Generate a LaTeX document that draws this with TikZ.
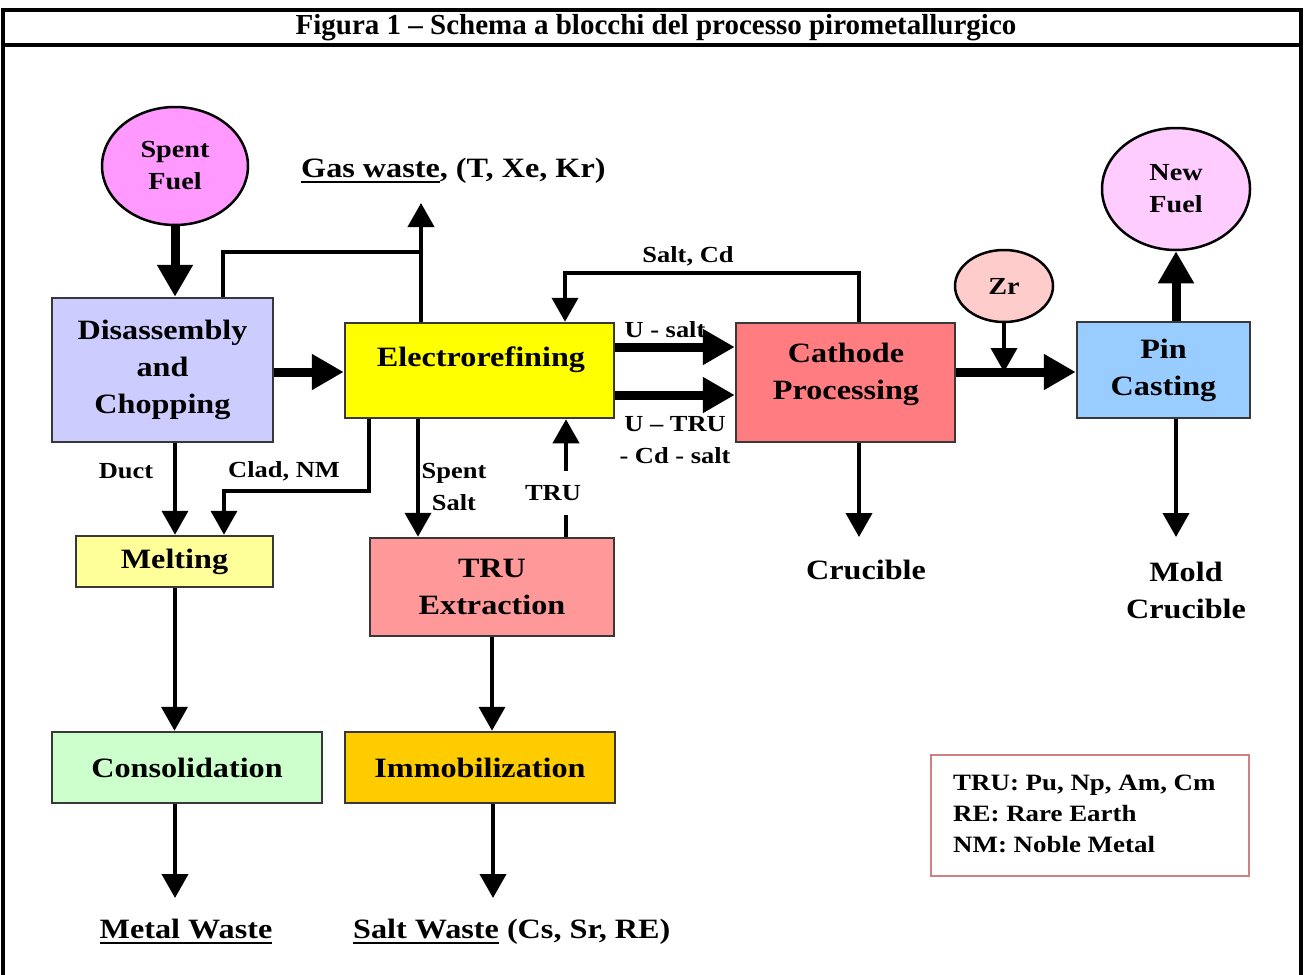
\documentclass[tikz,border=0pt]{standalone}
\usepackage{fontspec}
\setmainfont{Liberation Serif}[FakeStretch=1.15]
\newfontfamily\titlefam{Liberation Serif}
\usetikzlibrary{arrows.meta,shapes.geometric,calc}
\definecolor{cSpent}{HTML}{FF99FF}
\definecolor{cNew}{HTML}{FFCCFF}
\definecolor{cZr}{HTML}{FFCCCC}
\definecolor{cDis}{HTML}{CCCCFF}
\definecolor{cElec}{HTML}{FFFF00}
\definecolor{cCath}{HTML}{FF7C80}
\definecolor{cPin}{HTML}{99CCFF}
\definecolor{cMelt}{HTML}{FFFF99}
\definecolor{cTru}{HTML}{FF9999}
\definecolor{cCons}{HTML}{CCFFCC}
\definecolor{cImmo}{HTML}{FFCC00}
\definecolor{cLeg}{HTML}{D08080}
\definecolor{cLine}{HTML}{383838}
\newcommand\boxtxt{\fontsize{28}{37}\selectfont\bfseries}
\newcommand\circtxt{\fontsize{24.5}{32}\selectfont\bfseries}
\newcommand\labtxt{\fontsize{23}{31.5}\selectfont\bfseries}
\newcommand\legtxt{\fontsize{23.4}{31}\selectfont\bfseries}
\newcommand\myuline[1]{\setbox0\hbox{#1}\rlap{\raisebox{-6pt}{\rule{\wd0}{2.5pt}}}\box0\relax}
\tikzset{
  box/.style={draw=cLine, line width=2.5pt, rectangle, inner sep=0pt, align=center, font=\boxtxt},
  circ/.style={draw=black, line width=2.5pt, ellipse, inner sep=0pt, align=center, font=\circtxt},
  txt/.style={inner sep=0pt},
  lab/.style={inner sep=0pt, font=\labtxt, align=center},
  thinarr/.style={line width=4pt, -{Triangle[width=26pt,length=24pt]}},
  thickarr/.style={line width=9pt, -{Triangle[width=34pt,length=32pt]}},
  thinline/.style={line width=4pt}
}
\begin{document}
\begin{tikzpicture}[x=1pt,y=-1pt]
\useasboundingbox (0,0) rectangle (1305,974);
% frame
\draw[line width=4pt] (3,976) -- (3,10) -- (1301,10) -- (1301,976);
\draw[line width=4pt] (3,45) -- (1301,45);
\node[txt, font=\titlefam\bfseries\fontsize{29}{34}\selectfont, anchor=base] (title) at (656,35) {Figura 1 – Schema a blocchi del processo pirometallurgico};

% nodes
\node[circ, fill=cSpent, minimum width=146pt, minimum height=118pt] (spent) at (175,166) {Spent\\Fuel};
\node[box, fill=cDis, minimum width=221pt, minimum height=144pt] (dis) at (162.5,370) {Disassembly\\and\\Chopping};
\node[box, fill=cElec, minimum width=269pt, minimum height=95pt] (elec) at (479.5,370.5) {};
\node[txt, font=\boxtxt, anchor=base] (electxt) at (481,366) {Electrorefining};
\node[box, fill=cCath, minimum width=219pt, minimum height=119pt] (cath) at (845.5,382.5) {};
\node[txt, font=\boxtxt, align=center] (cathtxt) at (846,374) {Cathode\\Processing};
\node[circ, fill=cZr, minimum width=98pt, minimum height=72pt] (zr) at (1004,286) {Zr};
\node[box, fill=cPin, minimum width=173pt, minimum height=96pt] (pin) at (1163.5,370) {Pin\\Casting};
\node[circ, fill=cNew, minimum width=148pt, minimum height=122pt] (newf) at (1176,189) {New\\Fuel};
\node[box, fill=cMelt, minimum width=197pt, minimum height=51pt] (melt) at (174.5,561.5) {Melting};
\node[box, fill=cTru, minimum width=244pt, minimum height=98pt] (tru) at (492,587) {TRU\\Extraction};
\node[box, fill=cCons, minimum width=270pt, minimum height=71pt] (cons) at (187,767.5) {Consolidation};
\node[box, fill=cImmo, minimum width=270pt, minimum height=71pt] (immo) at (480,767.5) {Immobilization};
\node[draw=cLeg, line width=2pt, minimum width=318pt, minimum height=121pt, inner sep=0pt] (legend) at (1090,815.5) {};
\node[txt, font=\legtxt, align=left, anchor=west] (legtxt) at (953,814) {TRU: Pu, Np, Am, Cm\\RE: Rare Earth\\NM: Noble Metal};

% outputs
\node[txt, font=\boxtxt, anchor=base west] (gas) at (301,177) {\myuline{Gas waste}, (T, Xe, Kr)};
\node[txt, font=\boxtxt, anchor=base] (crucible) at (866,579) {Crucible};
\node[txt, font=\boxtxt, align=center] (mold) at (1186,590) {Mold\\Crucible};
\node[txt, font=\boxtxt, anchor=base] (metal) at (186,938) {\myuline{Metal Waste}};
\node[txt, font=\boxtxt, anchor=base west] (saltw) at (353,938) {\myuline{Salt Waste} (Cs, Sr, RE)};

% coordinates
\coordinate (gastip) at (421,203);
\coordinate (gasjoin) at (421,252);
\coordinate (saltcd) at (565,273);
\coordinate (zrjoin) at (1004,372);
\coordinate (cladc) at (224,491);
\coordinate (crutip) at (859,537);
\coordinate (moldtip) at (1176,537);
\coordinate (metaltip) at (175,898);
\coordinate (salttip) at (493,898);

% connectors
\draw[thickarr] (spent.south) -- (spent.south |- dis.north);
\draw[thinline] ([xshift=60.5pt]dis.north) |- (gasjoin);
\draw[thinarr] (gasjoin |- elec.north) -- (gastip);
\draw[thickarr] (dis.east |- 0,372) -- (elec.west |- 0,372);
\draw[thinarr] ([xshift=13.5pt]cath.north) |- (saltcd) -- (saltcd |- elec.north);
\draw[thickarr] (elec.east |- 0,347) -- (cath.west |- 0,347);
\draw[thickarr] (elec.east |- 0,395) -- (cath.west |- 0,395);
\draw[thickarr] (cath.east |- zrjoin) -- (pin.west |- zrjoin);
\draw[thinarr] (zr.south) -- (zrjoin);
\draw[thickarr] (newf.south |- pin.north) -- (newf.south);
\draw[thinarr] (crutip |- cath.south) -- (crutip);
\draw[thinarr] (moldtip |- pin.south) -- (moldtip);
\draw[thinarr] ([xshift=12.5pt]dis.south) -- ([xshift=12.5pt]dis.south |- melt.north);
\draw[thinarr] ([xshift=-110.5pt]elec.south) |- (cladc) -- (cladc |- melt.north);
\draw[thinarr] ([xshift=-61.5pt]elec.south) -- ([xshift=-61.5pt]elec.south |- tru.north);
\draw[thinarr] ([xshift=74pt]tru.north) -- ([xshift=74pt]tru.north |- elec.south);
\draw[thinarr] (melt.south) -- (melt.south |- cons.north);
\draw[thinarr] (metaltip |- cons.south) -- (metaltip);
\draw[thinarr] (tru.south) -- (tru.south |- immo.north);
\draw[thinarr] (salttip |- immo.south) -- (salttip);

% connector labels
\node[lab] (lduct) at (126,471) {Duct};
\node[lab] (lclad) at (284,471) {Clad, NM};
\node[lab] (lspent) at (454,487) {Spent\\Salt};
\node[lab, fill=white, inner xsep=2pt, inner ysep=14pt] (ltru) at (553,493) {TRU};
\node[lab] (lsaltcd) at (688,256) {Salt, Cd};
\node[lab] (lusalt) at (665,330) {U - salt};
\node[lab] (lutru) at (675,440) {U – TRU\\- Cd - salt};
\end{tikzpicture}
\end{document}
